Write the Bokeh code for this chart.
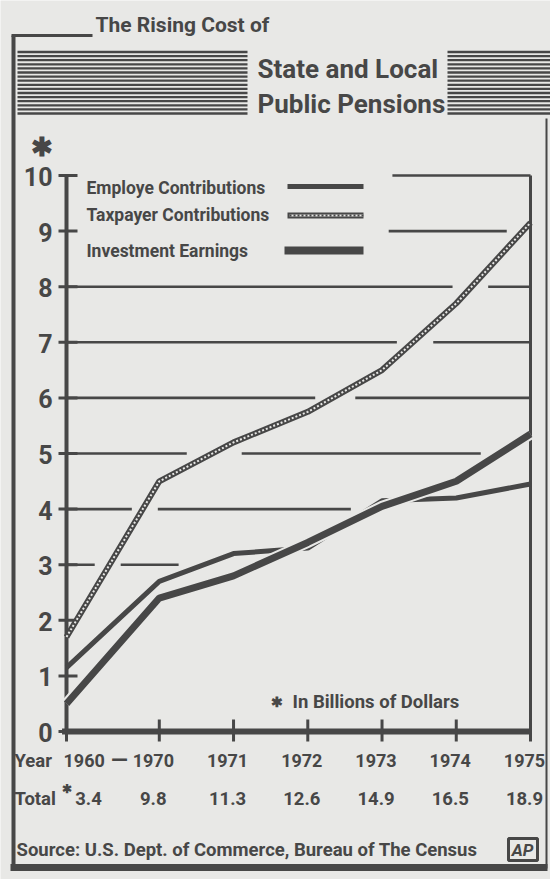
from bokeh.plotting import figure
from bokeh.models import Range1d
from bokeh.core.properties import value
from bokeh.embed import file_html
from bokeh.resources import INLINE

# ---------------- data ----------------
years = ["1960", "1970", "1971", "1972", "1973", "1974", "1975"]
x_slot = [0, 1.25, 2.25, 3.25, 4.25, 5.25, 6.25]   # 1960 -> 1970 gap is wider
totals = ["3.4", "9.8", "11.3", "12.6", "14.9", "16.5", "18.9"]
employe = [1.15, 2.7, 3.2, 3.3, 4.15, 4.2, 4.45]
taxpayer = [1.7, 4.5, 5.2, 5.75, 6.5, 7.7, 9.15]
investment = [0.5, 2.4, 2.8, 3.4, 4.05, 4.5, 5.35]
y_ticks = list(range(0, 11))

# broken horizontal rules (value, from slot, to slot)
grid_y = [3, 3, 4, 4, 5, 5, 6, 6, 7, 7, 8, 8, 9, 10]
grid_x0 = [0, 0.73, 0, 1.23, 0, 2.36, 0, 3.89, 0, 4.94, 0, 5.68, 4.34, 4.39]
grid_x1 = [0.38, 1.51, 0.88, 3.83, 1.62, 5.58, 3.35, 6.25, 4.45, 6.25, 5.2, 6.25, 5.93, 6.25]

# ---------------- style ----------------
INK = "#474747"
BG = "#e8e8e6"
FONT = "Roboto, 'Liberation Sans', sans-serif"

W, H = 550, 879
# page-pixel anchors of the scales
PX_X0, PX_X1 = 66.0, 530.0      # slot 0 and slot 6.25
PX_Y0, PX_Y1 = 731.0, 175.0     # value 0 and value 10
sx = (PX_X1 - PX_X0) / 6.25
sy = (PX_Y0 - PX_Y1) / 10.0
x_range = Range1d(-PX_X0 / sx, (W - PX_X0) / sx)
y_range = Range1d(-(H - PX_Y0) / sy, PX_Y0 / sy)

p = figure(width=W, height=H, x_range=x_range, y_range=y_range,
           x_axis_type=None, y_axis_type=None,
           output_backend="svg", toolbar_location=None, min_border=0)
p.grid.visible = False
p.outline_line_color = None
p.background_fill_color = BG
p.border_fill_color = BG
p.extra_x_ranges = {"px": Range1d(0, W)}
p.extra_y_ranges = {"px": Range1d(H, 0)}


def txt(x, y, s, size, align="left", baseline="middle", xr="px", yr="px",
        style="bold", **kw):
    p.text(x=x if isinstance(x, list) else [x],
           y=y if isinstance(y, list) else [y],
           text=s if isinstance(s, list) else [s],
           text_font=value(FONT), text_font_size=f"{size}px",
           text_font_style=style, text_color=INK,
           text_align=align, text_baseline=baseline,
           x_range_name=xr, y_range_name=yr, **kw)


def seg(x0, y0, x1, y1, w, xr="px", yr="px", color=INK):
    p.segment(x0=x0, y0=y0, x1=x1, y1=y1, line_width=w, line_color=color,
              x_range_name=xr, y_range_name=yr)


# ---------------- outer frame & header ----------------
seg([13], [35], [13], [868], 4)
seg([11], [35], [92], [35], 3)
seg([10], [867], [547], [867], 7)
seg([546], [118], [546], [868], 2)
txt(95, 24, "The Rising Cost of", 21)

sy0 = []
for i in range(16):
    yy = 51.5 + i * 4.1
    sy0 += [yy, yy]
sx0 = [17, 447] * 16
sx1 = [247, 550] * 16
seg(sx0, sy0, sx1, sy0, 2.3)
txt(257, 68, "State and Local", 26)
txt(257, 103, "Public Pensions", 26)

# ---------------- y axis ----------------
txt(41, 146, "✱", 26, align="center")
txt([52] * len(y_ticks), y_ticks, [str(v) for v in y_ticks], 25,
    align="right", yr="default", y_offset=1)
seg([58] * len(y_ticks), y_ticks, [77] * len(y_ticks), y_ticks, 3, yr="default")
seg([0], [0], [0], [10], 4, xr="default", yr="default")

# ---------------- grid rules ----------------
seg(grid_x0, grid_y, grid_x1, grid_y, 2.6, xr="default", yr="default")
seg([6.25], [0], [6.25], [10], 3, xr="default", yr="default")

# ---------------- x axis ----------------
seg([-0.06], [0], [6.25], [0], 6, xr="default", yr="default")
seg(x_slot, [719] * len(x_slot), x_slot, [741] * len(x_slot), 3, xr="default")

# ---------------- series ----------------
p.line(x_slot, employe, line_width=5, line_color=INK)
p.line(x_slot, investment, line_width=11, line_color=BG)
p.line(x_slot, investment, line_width=7, line_color=INK)
p.line(x_slot, taxpayer, line_width=6, line_color=INK)
p.line(x_slot, taxpayer, line_width=2, line_color=BG, line_dash="2 2")

# ---------------- legend ----------------
txt(86, 187, "Employe Contributions", 17.5)
txt(86, 214, "Taxpayer Contributions", 17.5)
txt(86, 250, "Investment Earnings", 17.5)
seg([287], [186], [363], [186], 5)
seg([287], [215], [363], [215], 6)
seg([289], [215], [363], [215], 2, color=BG)
p.segment(x0=[289], y0=[215], x1=[363], y1=[215], line_width=2, line_color=INK,
          line_dash="2 2", x_range_name="px", y_range_name="px")
seg([284], [250], [363], [250], 8)

txt(276, 701, "✱", 14, align="center")
txt(292, 701, "In Billions of Dollars", 18.5)

# ---------------- x labels ----------------
txt(14, 760, "Year", 18.5)
txt(x_slot[0], 760, years[0], 18, xr="default", x_offset=-3)
txt(119, 760, "—", 22, align="center")
txt(x_slot[1:], [760] * 6, years[1:], 18, align="center", xr="default", x_offset=-6)

txt(14, 798, "Total", 18.5)
txt(66, 788, "✱", 12, align="center")
txt(x_slot[0], 798, totals[0], 18.5, align="center", xr="default", x_offset=22)
txt(x_slot[1:], [798] * 6, totals[1:], 18.5, align="center", xr="default", x_offset=-6)

# ---------------- source ----------------
txt(16, 849, "Source: U.S. Dept. of Commerce, Bureau of The Census", 18.5)
p.quad(left=[508], right=[537], top=[838], bottom=[860], fill_color=None,
       line_color=INK, line_width=3, x_range_name="px", y_range_name="px")
txt(522, 849, "AP", 17, align="center", style="bold italic")

open("out.html", "w").write(file_html(p, INLINE))
